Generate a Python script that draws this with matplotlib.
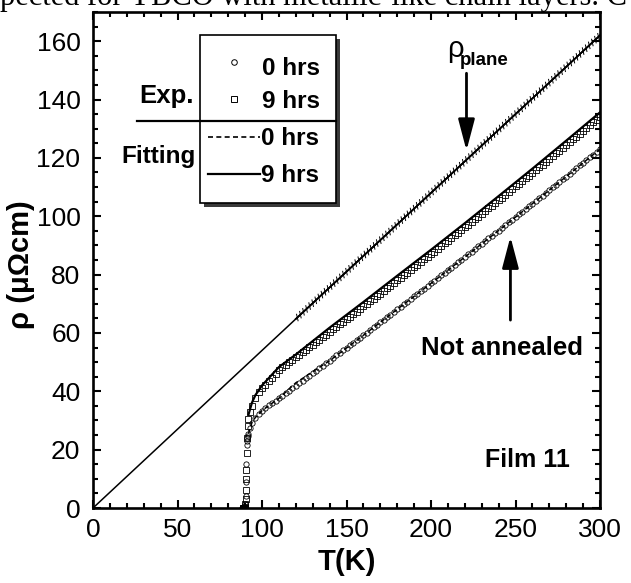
import matplotlib
matplotlib.use("Agg")
import matplotlib.pyplot as plt
import matplotlib.patheffects as pe
from matplotlib.patches import Rectangle
from matplotlib.lines import Line2D
from matplotlib.ticker import MultipleLocator

# ---------------- data ----------------
T_grid = [110, 112, 114, 116, 118, 120, 122, 124, 126, 128,
          130, 132, 134, 136, 138, 140, 142, 144, 146, 148,
          150, 152, 154, 156, 158, 160, 162, 164, 166, 168,
          170, 172, 174, 176, 178, 180, 182, 184, 186, 188,
          190, 192, 194, 196, 198, 200, 202, 204, 206, 208,
          210, 212, 214, 216, 218, 220, 222, 224, 226, 228,
          230, 232, 234, 236, 238, 240, 242, 244, 246, 248,
          250, 252, 254, 256, 258, 260, 262, 264, 266, 268,
          270, 272, 274, 276, 278, 280, 282, 284, 286, 288,
          290, 292, 294, 296, 298, 300]

T9_low = [88.5, 89.0, 89.4, 89.7, 90.0, 90.2, 90.4, 90.5, 90.6, 90.8, 91.0, 91.3,
          91.6, 92, 93, 94, 96, 98, 100, 102, 104, 106, 108]
rho9_low = [0, 0, 0, 0, 0.5, 1.5, 3, 6, 10, 13, 19, 24,
            28, 30.5, 33, 35, 37.8, 39.6, 41.0, 42.3, 43.5, 44.7, 46.0]
rho9_grid = [47.4, 48.2, 49.1, 49.9, 50.8, 51.6, 52.5, 53.3, 54.2, 55.1,
             55.9, 56.8, 57.7, 58.5, 59.4, 60.3, 61.2, 62.0, 62.9, 63.8,
             64.7, 65.5, 66.4, 67.3, 68.2, 69.1, 69.9, 70.8, 71.7, 72.6,
             73.5, 74.4, 75.3, 76.2, 77.1, 78.0, 78.9, 79.8, 80.7, 81.6,
             82.5, 83.4, 84.3, 85.2, 86.1, 87.0, 87.9, 88.8, 89.7, 90.7,
             91.6, 92.5, 93.4, 94.3, 95.2, 96.2, 97.1, 98.0, 98.9, 99.9,
             100.8, 101.7, 102.7, 103.6, 104.5, 105.5, 106.4, 107.3, 108.3, 109.2,
             110.2, 111.1, 112.0, 113.0, 113.9, 114.9, 115.8, 116.8, 117.7, 118.7,
             119.6, 120.6, 121.6, 122.5, 123.5, 124.4, 125.4, 126.4, 127.3, 128.3,
             129.3, 130.2, 131.2, 132.2, 133.1, 134.1]

T0_low = [88.0, 88.5, 89.0, 89.5, 89.8, 90.0, 90.2, 90.4, 90.5, 90.7, 90.9, 91.1,
          91.4, 91.7, 92, 93, 94, 96, 98, 100, 102, 104, 106, 108]
rho0_low = [0, 0, 0, 0, 0, 0.5, 1.5, 4, 9, 15, 21.5, 23,
            24, 24.8, 25.5, 27.5, 29.2, 31.0, 32.3, 33.4, 34.4, 35.3, 36.1, 36.8]
rho0_grid = [37.6, 38.4, 39.3, 40.1, 41.0, 41.9, 42.7, 43.6, 44.4, 45.3,
             46.2, 47.0, 47.9, 48.8, 49.6, 50.5, 51.4, 52.3, 53.1, 54.0,
             54.9, 55.7, 56.6, 57.5, 58.4, 59.2, 60.1, 61.0, 61.9, 62.8,
             63.7, 64.5, 65.4, 66.3, 67.2, 68.1, 69.0, 69.9, 70.7, 71.6,
             72.5, 73.4, 74.3, 75.2, 76.1, 77.0, 77.9, 78.8, 79.7, 80.6,
             81.5, 82.4, 83.3, 84.2, 85.1, 86.0, 86.9, 87.8, 88.7, 89.7,
             90.6, 91.5, 92.4, 93.3, 94.2, 95.1, 96.0, 97.0, 97.9, 98.8,
             99.7, 100.6, 101.6, 102.5, 103.4, 104.3, 105.3, 106.2, 107.1, 108.0,
             109.0, 109.9, 110.8, 111.8, 112.7, 113.6, 114.6, 115.5, 116.4, 117.4,
             118.3, 119.2, 120.2, 121.1, 122.1, 123.0]

T_fit = [92, 94, 96, 100, 110, 120, 140, 160, 180, 200, 220, 240, 260, 280, 300]
fit9 = [32, 36, 38.6, 42, 48.3, 52.6, 61.8, 70.6, 79.6, 88.5, 97.6, 106.9, 116.3, 125.9, 135.6]
fit0 = [25.5, 29.2, 31, 33.4, 37.6, 42.9, 50.5, 59.2, 68.1, 77, 86, 95.1, 104.3, 113.6, 123]

plane_T = [0, 300]
plane_rho = [0, 162]
plane_mark_T = [120, 300]
plane_mark_rho = [64.8, 162]

x_ticks = [0, 50, 100, 150, 200, 250, 300]
y_ticks = [0, 20, 40, 60, 80, 100, 120, 140, 160]

# ---------------- fonts ----------------
FN = ['Liberation Sans', 'DejaVu Sans']
plt.rcParams['font.family'] = FN

W, H = 631, 583
fig = plt.figure(figsize=(W / 100, H / 100), dpi=100)
ax = fig.add_axes([93 / W, 1 - 508 / H, 507 / W, 496 / H])


def fx(x):
    return x / W


def fy(y):
    return 1 - y / H


# ---------------- data drawing ----------------
ax.plot(plane_T, plane_rho, color='k', lw=1.1, zorder=3)
ax.plot(plane_mark_T, plane_mark_rho, color='k', lw=1.1, zorder=3,
        path_effects=[pe.withTickedStroke(spacing=3.0, angle=60, length=0.8, linewidth=0.7),
                      pe.withTickedStroke(spacing=3.0, angle=-120, length=0.8, linewidth=0.7)])

ax.plot(T0_low + T_grid, rho0_low + rho0_grid, linestyle='none', marker='o', ms=3.8,
        mfc='none', mec='k', mew=0.6, zorder=4)
ax.plot(T9_low + T_grid, rho9_low + rho9_grid, linestyle='none', marker='s', ms=4.2,
        mfc='none', mec='k', mew=0.6, zorder=4)
ax.plot(T_fit, fit0, color='k', lw=1.1, ls=(0, (3, 2)), zorder=5)
ax.plot(T_fit, fit9, color='k', lw=1.6, zorder=5)

# ---------------- axes styling ----------------
ax.set_xlim(0, 300)
ax.set_ylim(0, 170)
ax.set_xticks(x_ticks)
ax.set_yticks(y_ticks)
ax.xaxis.set_minor_locator(MultipleLocator(10))
ax.yaxis.set_minor_locator(MultipleLocator(5))
ax.tick_params(which='both', direction='in', top=True, right=True, width=1.5)
ax.tick_params(which='major', length=6)
ax.tick_params(which='minor', length=3.3)
ax.tick_params(axis='y', which='major', pad=9, labelsize=19)
ax.tick_params(axis='x', which='major', pad=7, labelsize=19)
for s in ax.spines.values():
    s.set_linewidth(1.9)

ax.set_xlabel('T(K)', fontsize=21, fontweight='bold')
ax.xaxis.set_label_coords(0.5, -0.08)
ax.set_ylabel('ρ (μΩcm)', fontsize=21, fontweight='bold')
ax.yaxis.set_label_coords(-0.115, 0.49)

# ---------------- annotations ----------------
ax.text(209.5, 154.6, 'ρ', fontsize=21, ha='left', va='baseline')
ax.text(217.0, 151.8, 'plane', fontsize=13.5, fontweight='bold', ha='left', va='baseline')
ax.annotate('', xy=(221, 122.5), xytext=(221, 149),
            arrowprops=dict(arrowstyle='-|>,head_length=1.9,head_width=0.5',
                            lw=2, color='k', shrinkA=0, shrinkB=0))
ax.text(242.3, 54.8, 'Not annealed', fontsize=18.5, fontweight='bold', ha='center', va='center')
ax.annotate('', xy=(247, 93), xytext=(247, 64.4),
            arrowprops=dict(arrowstyle='-|>,head_length=1.9,head_width=0.5',
                            lw=2, color='k', shrinkA=0, shrinkB=0))
ax.text(256.8, 16.4, 'Film 11', fontsize=18, fontweight='bold', ha='center', va='center')

# ---------------- legend box (drawn by hand) ----------------
bx0, by0, bx1, by1 = 200, 35, 336, 203
fig.patches.append(Rectangle((fx(bx0 + 4), fy(by1 + 4)), (bx1 - bx0) / W, (by1 - by0) / H,
                             transform=fig.transFigure, facecolor='#3a3a3a', edgecolor='none',
                             zorder=8))
fig.patches.append(Rectangle((fx(bx0), fy(by1)), (bx1 - bx0) / W, (by1 - by0) / H,
                             transform=fig.transFigure, facecolor='white', edgecolor='k',
                             lw=1.2, zorder=9))
fig.lines.append(Line2D([fx(137), fx(bx1)], [fy(121), fy(121)], transform=fig.transFigure,
                        color='k', lw=1.6, zorder=10))
fig.lines.append(Line2D([fx(234)], [fy(62)], transform=fig.transFigure, marker='o', ms=4,
                        mfc='none', mec='k', mew=0.7, zorder=10))
fig.lines.append(Line2D([fx(234)], [fy(99)], transform=fig.transFigure, marker='s', ms=4,
                        mfc='none', mec='k', mew=0.7, zorder=10))
fig.lines.append(Line2D([fx(208), fx(260)], [fy(137), fy(137)], transform=fig.transFigure,
                        color='k', lw=1.2, ls=(0, (3, 2)), zorder=10))
fig.lines.append(Line2D([fx(208), fx(260)], [fy(173.5), fy(173.5)], transform=fig.transFigure,
                        color='k', lw=1.6, zorder=10))
for txt, x, y in [('0 hrs', 262, 75), ('9 hrs', 262, 108), ('0 hrs', 261, 145), ('9 hrs', 261, 181.5)]:
    fig.text(fx(x), fy(y), txt, fontsize=17.5, fontweight='bold',
             ha='left', va='baseline', zorder=11)
fig.text(fx(194), fy(103), 'Exp.', fontsize=18.5, fontweight='bold',
         ha='right', va='baseline', zorder=11)
fig.text(fx(196), fy(163), 'Fitting', fontsize=17.5, fontweight='bold',
         ha='right', va='baseline', zorder=11)

# cropped line of running text at the very top
fig.text(fx(0), fy(5), 'pected for YBCO with metallic-like chain layers. C',
         family=['Liberation Serif', 'DejaVu Serif'], fontsize=22, ha='left', va='baseline')

fig.savefig('out.png', dpi=100)
